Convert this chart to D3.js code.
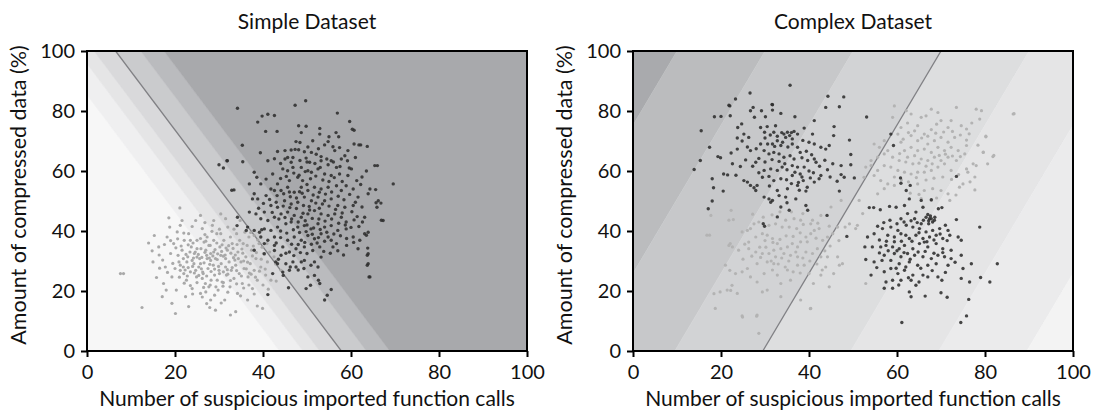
<!DOCTYPE html>
<html>
<head>
<meta charset="utf-8">
<script src="https://cdn.jsdelivr.net/npm/d3@7"></script>
<style>
  body { margin: 0; background: #fff; }
  svg { display: block; font-family: "Lato", "DejaVu Sans", sans-serif; }
</style>
</head>
<body>
<div class="chart"></div>
<script>
// Axis ticks shared by both panels
var tickValues = [0, 20, 40, 60, 80, 100];

// Simple dataset: malicious (dark) and benign (light) points
var simpleMalware = [
  [34.2,80.9],[47.3,81.9],[49.7,83.4],[56.9,79.3],[41.1,78.9],[42.6,78.5],[39.8,78.3],[38.8,76.3],[59.7,76.5],[48.1,75.1],
  [49.8,74.9],[40.6,73.2],[43.2,73.2],[48.7,72.8],[52.9,74.2],[60.7,73.6],[56.6,72.8],[52.9,72.3],[57.2,71.4],[51.3,70.1],
  [55.0,71.4],[54.0,68.7],[35.3,68.6],[48.4,69.5],[60.7,69.0],[62.2,68.7],[63.7,68.2],[43.3,66.5],[45.0,66.8],[46.4,67.0],
  [47.3,67.2],[48.1,67.1],[49.4,66.4],[51.0,66.2],[52.1,65.6],[53.2,64.8],[55.9,68.1],[56.3,66.8],[59.3,66.8],[58.6,65.1],
  [39.4,66.1],[42.6,64.1],[41.1,63.4],[45.6,64.5],[46.4,62.9],[49.8,64.3],[50.6,62.9],[53.2,63.4],[54.8,62.1],[55.5,63.4],
  [56.7,61.2],[57.8,64.0],[59.2,63.4],[59.6,61.0],[65.4,61.8],[66.0,61.8],[31.9,63.4],[35.4,63.1],[31.0,61.0],[38.0,59.6],
  [38.6,57.9],[40.7,57.3],[42.2,59.0],[44.5,60.7],[45.6,60.1],[46.8,61.2],[48.7,61.2],[50.2,60.1],[51.0,59.6],[52.5,60.7],
  [54.0,59.0],[55.5,58.5],[57.4,59.0],[59.3,58.5],[60.1,60.7],[47.9,57.9],[49.0,56.8],[46.0,56.8],[43.3,55.7],[41.8,54.0],
  [39.5,55.7],[36.9,55.7],[33.4,53.7],[38.0,52.4],[37.6,50.7],[38.8,50.7],[40.7,51.8],[42.6,53.5],[44.1,53.5],[45.6,54.6],
  [47.1,52.9],[48.7,54.6],[50.2,53.5],[51.7,54.6],[53.2,54.0],[54.8,54.6],[56.7,55.1],[57.8,53.5],[58.9,55.1],[60.5,54.0],
  [62.2,55.5],[64.3,54.0],[65.6,53.8],[63.9,52.4],[66.2,50.1],[66.8,49.3],[69.6,55.7],[61.6,51.3],[60.5,48.5],[58.6,47.9],
  [57.0,48.5],[55.5,50.7],[54.0,50.1],[52.5,51.3],[51.0,50.1],[49.4,51.3],[47.9,49.6],[46.4,49.0],[44.9,50.1],[43.3,47.9],
  [41.8,48.5],[40.3,46.3],[38.4,45.7],[36.9,46.3],[39.5,44.1],[41.1,43.5],[42.6,44.6],[44.1,45.7],[45.6,46.3],[47.1,45.2],
  [48.7,44.6],[50.2,45.7],[51.7,46.8],[53.2,45.7],[54.8,45.2],[56.3,45.7],[57.8,44.6],[58.9,43.0],[60.7,43.7],[61.8,41.5],
  [63.1,39.1],[63.9,39.6],[65.9,47.9],[67.3,43.5],[63.1,44.6],[34.2,44.6],[34.1,41.8],[36.5,41.3],[38.0,40.2],[39.2,39.6],
  [40.3,40.7],[41.8,40.2],[43.3,41.3],[45.2,42.4],[46.4,43.0],[47.9,41.3],[49.4,41.8],[50.9,40.7],[52.5,42.4],[54.0,41.3],
  [55.5,41.8],[57.0,40.2],[58.9,40.7],[60.5,38.0],[62.0,36.9],[63.9,32.4],[61.6,34.1],[59.0,35.2],[56.7,35.8],[55.5,36.9],
  [55.9,34.7],[54.8,38.0],[53.2,39.1],[51.7,37.4],[50.2,38.5],[48.7,36.9],[47.1,38.0],[45.6,36.9],[44.5,34.7],[42.6,38.0],
  [41.1,36.9],[39.5,38.0],[40.3,32.4],[42.6,33.5],[44.1,31.9],[46.0,33.0],[47.5,34.1],[49.4,34.7],[51.3,33.5],[52.9,34.7],
  [53.2,31.3],[51.7,29.7],[50.9,28.6],[52.5,28.0],[49.4,30.2],[48.7,29.7],[46.8,29.7],[45.2,29.1],[43.3,29.1],[42.2,25.8],
  [44.5,26.3],[46.0,26.9],[47.5,28.0],[50.2,24.7],[51.7,25.2],[52.6,23.6],[50.8,21.9],[52.9,22.5],[55.5,20.5],[54.6,18.6],
  [54.0,17.0],[49.8,20.8],[63.9,29.1],[64.3,24.7],[40.3,35.8],[42.6,35.2],[38.0,33.6],[41.1,18.8],[45.8,21.1],[44.6,25.2],
  [42.9,29.7],[32.9,53.6],[36.2,40.2],[39.7,40.4],[30.0,62.1],[31.8,63.4],[63.5,38.6],[63.8,34.3],[63.7,31.9],[63.7,28.6],
  [64.1,24.7],[65.7,49.4],[66.9,43.6],[60.3,73.9],[61.8,68.7],[48.3,53.1],[50.5,48.2],[46.2,51.4],[52.8,47.6],[49.1,45.9],
  [44.0,57.5],[45.3,58.2],[47.0,59.3],[48.2,58.6],[49.6,59.8],[50.8,57.4],[52.0,58.3],[53.6,57.0],[55.0,56.5],[56.2,57.8],
  [43.2,51.8],[44.7,52.4],[46.0,53.0],[47.6,51.0],[48.9,52.6],[50.0,55.5],[51.4,52.0],[52.8,52.9],[54.2,52.3],[55.6,53.0],
  [57.1,51.6],[58.4,50.4],[59.7,52.2],[61.0,49.6],[62.5,48.0],[60.2,46.4],[58.0,46.0],[56.5,47.2],[55.0,48.3],[53.5,49.0],
  [52.0,49.3],[50.6,47.0],[49.2,48.5],[47.6,47.5],[46.1,47.8],[44.6,48.3],[43.0,49.6],[41.5,50.5],[40.1,49.2],[39.0,47.6],
  [42.1,46.2],[43.6,44.0],[45.0,44.5],[46.5,44.0],[48.0,43.0],[49.6,43.4],[51.2,44.2],[52.7,44.0],[54.1,43.3],[55.6,44.0],
  [57.2,42.6],[58.7,42.0],[60.0,41.2],[61.4,44.8],[62.6,43.0],[50.0,42.0],[51.5,41.0],[53.0,40.5],[54.5,39.6],[56.1,39.0],
  [57.6,38.4],[59.0,37.5],[60.6,36.2],[44.0,40.0],[45.4,39.3],[46.9,40.4],[48.3,39.5],[49.8,39.8],[51.2,38.9],[52.6,37.8],
  [54.0,36.6],[44.0,37.8],[43.0,36.0],[46.5,35.6],[48.0,35.5],[49.5,36.2],[51.0,35.6],[52.3,36.0],[53.8,33.2],[55.3,32.6],
  [57.0,33.4],[58.3,32.0],[47.0,31.8],[48.5,32.8],[50.0,32.5],[45.2,32.6],[43.5,30.6],[46.2,28.0],[48.0,27.0],[49.3,27.5],
  [45.0,64.0],[46.8,64.5],[48.4,63.5],[50.0,63.0],[51.8,62.5],[53.0,61.2],[54.5,64.0],[56.0,63.0],[57.5,61.5],[44.0,62.5],
  [47.5,69.8],[50.2,68.0],[52.6,67.4],[54.8,69.8],[57.4,67.8],[61.0,64.5],[62.5,58.0],[63.5,60.0],[61.3,56.8],[58.0,56.5]
];

var simpleBenign = [
  [8.3,25.8],[7.6,25.8],[12.5,14.5],[14.0,36.0],[15.0,29.7],[15.3,38.5],[16.3,34.7],[17.1,18.1],[17.4,22.5],[17.8,28.0],
  [18.2,38.0],[18.6,44.4],[19.0,32.5],[19.3,24.7],[19.7,35.8],[20.1,12.5],[20.3,20.3],[20.5,39.7],[20.9,29.7],[21.1,47.7],
  [21.2,41.9],[21.2,26.9],[21.6,33.6],[21.9,28.0],[22.1,36.9],[22.4,18.1],[22.6,23.6],[22.9,31.4],[23.1,39.1],[23.5,26.4],
  [23.7,34.7],[23.9,20.8],[24.3,29.1],[24.4,32.5],[24.7,43.5],[24.9,24.7],[25.0,36.9],[25.4,28.0],[25.6,30.8],[25.8,19.2],
  [25.9,34.1],[26.2,40.8],[26.4,25.8],[26.6,29.4],[26.9,22.5],[27.2,31.9],[27.3,38.0],[27.5,27.5],[27.7,35.2],[27.9,14.5],
  [28.1,30.2],[28.2,23.6],[28.5,41.9],[28.7,28.6],[28.8,33.0],[29.0,25.3],[29.2,13.6],[29.5,39.1],[29.6,30.5],[29.8,20.3],
  [30.0,26.9],[30.2,34.7],[30.4,45.7],[30.5,29.1],[30.7,23.0],[31.0,31.6],[31.1,36.9],[31.3,17.0],[31.5,28.0],[31.7,25.3],
  [31.9,33.6],[32.0,41.3],[32.3,29.7],[32.5,21.4],[32.6,12.0],[32.8,26.9],[33.0,35.8],[33.3,31.1],[33.4,24.2],[33.8,28.6],
  [34.0,39.1],[34.2,19.2],[34.3,33.0],[34.6,25.8],[34.8,43.5],[35.0,29.7],[35.3,22.5],[35.5,35.8],[35.7,27.5],[36.1,31.4],
  [36.5,17.0],[36.6,24.7],[36.8,38.0],[37.1,29.1],[37.4,33.6],[37.6,20.8],[38.0,26.9],[38.4,30.8],[38.7,23.6],[39.1,35.8],
  [39.5,28.0],[39.9,14.2],[40.1,32.5],[40.6,25.3],[41.0,29.7],[41.8,23.6],[42.5,31.4],[44.1,26.9],[38.7,15.0],[33.8,13.1],
  [28.1,17.0],[23.1,14.8],[19.3,15.9],[18.8,41.3],[21.6,43.5],[25.8,45.2],[28.8,43.5],[31.5,44.1],[21.9,30.8],[22.7,29.7],
  [21.2,28.6],[23.9,30.2],[25.0,31.3],[25.8,29.1],[27.3,30.8],[28.1,32.5],[29.2,30.8],[30.4,31.9],[31.5,30.8],[24.7,26.9],
  [26.2,24.2],[27.7,21.4],[29.6,23.6],[25.0,34.1],[26.6,36.3],[23.5,36.9],[28.8,36.9],[30.4,39.1],[32.6,38.0],[17.2,30.3],
  [20.0,27.5],[22.3,27.0],[24.0,28.2],[26.0,27.4],[27.9,28.9],[29.9,28.2],[31.9,27.1],[33.6,30.3],[35.4,32.6],[36.9,26.0],
  [24.6,33.0],[26.8,32.9],[29.1,33.8],[32.2,35.1],[34.7,36.9],[37.2,39.5],[22.8,25.0],[20.7,31.9],[30.9,21.6],[27.0,19.7],
  [22.5,32.2],[23.4,33.0],[24.2,31.0],[25.3,32.2],[26.1,31.2],[27.0,33.6],[27.8,31.0],[28.6,31.7],[29.7,32.4],[30.6,33.2],
  [31.4,32.0],[32.7,32.6],[33.7,32.0],[34.4,30.8],[35.6,30.0],[36.5,29.6],[37.6,31.7],[38.5,32.8],[39.6,30.6],[40.5,27.3],
  [21.0,24.6],[22.0,25.8],[23.0,27.8],[24.4,26.0],[25.4,25.2],[26.3,26.3],[27.2,25.0],[28.2,26.5],[29.0,27.3],[30.1,25.8],
  [31.0,26.4],[32.0,25.6],[33.0,27.8],[34.0,26.8],[35.1,25.0],[36.2,27.4],[37.3,25.6],[38.3,24.6],[39.2,26.6],[40.0,22.0],
  [20.2,34.4],[21.4,35.0],[23.0,35.4],[24.1,36.0],[25.8,37.5],[27.0,36.6],[28.0,35.2],[29.5,36.0],[30.7,35.4],[31.6,34.3],
  [33.2,34.2],[34.1,35.5],[35.2,34.0],[36.4,35.2],[37.8,35.0],[38.8,37.0],[39.8,34.6],[26.8,38.8],[28.4,39.9],[30.1,40.6],
  [22.1,22.6],[23.5,21.8],[25.0,22.8],[26.5,21.2],[28.0,22.0],[29.3,21.4],[31.0,22.8],[32.6,23.5],[34.0,22.4],[35.6,21.0],
  [36.8,22.0],[24.0,19.0],[26.2,18.0],[29.0,18.6],[32.0,19.6],[34.9,18.4],[18.3,26.2],[19.5,29.2],[16.4,32.0],[17.6,35.5],
  [19.0,36.8],[20.6,37.4],[22.0,39.3],[23.9,41.5],[26.8,42.8],[33.4,40.6],[35.9,39.6],[38.0,38.5],[40.9,35.8],[41.5,33.0],
  [42.9,29.0],[43.0,23.3],[41.2,20.6],[38.0,19.0],[30.5,16.0],[27.2,15.8],[18.0,20.3],[15.8,24.5],[16.5,27.6],[14.8,33.4]
];

// Complex dataset: two malicious clusters (dark), two benign clusters (light)
var complexMalware = [
  [15.5,73.4],[17.4,67.9],[15.3,63.5],[13.9,60.5],[18.5,78.1],[20.0,78.2],[22.0,81.7],[22.1,78.4],[18.0,57.4],[18.3,54.4],
  [20.5,53.3],[18.0,50.0],[17.1,47.4],[19.3,64.8],[19.9,64.4],[21.5,58.7],[20.6,59.0],[22.3,66.0],[23.7,67.3],[23.8,74.5],
  [24.7,75.7],[23.7,71.0],[25.2,72.3],[26.3,71.2],[26.7,66.8],[25.6,63.7],[24.4,61.5],[27.9,62.9],[26.7,80.1],[27.3,81.2],
  [29.2,80.1],[27.6,77.9],[30.1,78.1],[31.7,82.1],[31.7,80.3],[33.6,79.2],[36.8,78.1],[41.2,76.8],[43.8,81.2],[46.9,81.4],
  [29.0,74.5],[30.5,74.8],[32.4,75.1],[29.9,72.9],[32.0,72.9],[34.3,72.3],[35.1,72.9],[36.6,73.2],[38.9,74.3],[40.8,72.3],
  [34.7,71.2],[36.2,70.7],[37.4,72.3],[32.8,70.1],[31.7,69.0],[33.6,68.5],[36.2,69.0],[37.4,67.9],[29.0,69.0],[29.8,66.8],
  [30.9,65.7],[32.0,66.2],[33.2,65.7],[34.3,64.6],[35.7,65.1],[36.6,64.0],[38.0,66.2],[40.0,69.6],[41.2,69.0],[42.7,67.9],
  [43.8,67.3],[44.6,68.5],[45.7,74.8],[45.6,71.8],[49.2,70.3],[49.5,65.5],[49.5,62.1],[47.3,61.8],[47.3,58.8],[48.0,57.9],
  [50.3,57.7],[45.4,62.4],[44.2,60.4],[42.7,58.5],[41.2,64.0],[41.6,62.9],[39.7,63.5],[38.9,61.3],[37.4,61.3],[36.2,61.8],
  [34.5,62.4],[33.9,61.3],[32.8,60.2],[31.3,60.7],[29.8,60.2],[29.4,57.9],[30.9,58.2],[32.0,56.8],[33.6,57.4],[34.9,57.1],
  [36.2,58.5],[38.0,59.0],[38.7,56.8],[40.3,57.7],[41.2,56.3],[42.3,57.4],[39.6,54.6],[39.3,53.3],[37.4,55.2],[35.1,54.1],
  [32.8,53.5],[28.2,55.2],[27.5,54.4],[26.7,55.2],[26.0,56.3],[25.2,56.8],[27.9,53.5],[29.8,51.3],[30.9,50.7],[31.3,49.6],
  [31.7,50.2],[33.6,48.0],[34.7,51.3],[37.0,50.7],[39.3,48.5],[39.7,46.9],[35.5,46.9],[32.8,44.7],[29.6,42.4],[29.9,41.6],
  [46.9,53.3],[44.1,45.2],[48.6,38.2],[26.6,86.0],[35.7,88.6],[44.3,84.9],[47.9,84.7],[23.3,84.0],[21.8,81.9],[31.6,82.2],
  [30.0,71.0],[31.2,72.0],[32.8,71.6],[33.8,72.8],[35.6,71.8],[36.0,72.8],[30.6,69.0],[32.2,68.2],[34.0,69.6],[35.2,68.0],
  [38.6,70.2],[39.4,66.6],[40.6,65.4],[38.4,64.4],[33.2,63.2],[31.6,63.8],[30.0,63.0],[28.6,64.2],[27.2,61.6],[28.6,59.4],
  [35.0,60.4],[36.8,59.6],[38.4,58.0],[40.0,60.0],[42.4,61.6],[43.6,63.6],[44.8,58.0],[46.4,56.6],[37.6,56.2],[36.0,55.8],
  [24.8,70.0],[26.0,68.0],[28.0,67.4],[22.6,62.4],[23.4,58.6],[31.0,55.0],[33.2,51.8],[35.0,49.4],[37.8,53.6],[41.0,59.4],
  [53.1,78.0],[58.6,72.3],[59.2,68.5],[73.5,58.2],[60.8,57.7],[60.9,55.9],[62.1,53.5],[63.0,55.2],[53.7,47.8],[54.7,47.8],
  [56.2,47.1],[58.3,48.2],[59.8,47.9],[61.7,48.5],[62.8,50.7],[65.5,50.2],[67.8,50.4],[65.9,47.9],[69.4,47.4],[70.2,47.8],
  [62.4,45.8],[64.3,46.3],[60.9,44.1],[64.0,44.1],[67.8,44.1],[68.5,43.6],[67.2,42.4],[65.5,42.4],[73.5,43.8],[78.8,41.3],
  [56.7,40.8],[58.6,41.3],[60.2,40.2],[62.1,41.9],[63.6,41.3],[65.1,40.8],[66.6,39.7],[68.1,40.2],[69.7,40.8],[71.0,41.9],
  [71.6,40.2],[53.3,38.0],[54.8,39.1],[57.9,38.6],[59.4,38.0],[60.9,39.1],[62.8,37.5],[64.3,38.6],[65.9,37.5],[67.4,38.0],
  [68.9,38.6],[70.4,37.5],[72.0,38.6],[73.9,38.0],[74.6,36.9],[52.7,34.7],[54.4,34.7],[56.3,34.7],[57.5,35.2],[59.0,34.7],
  [60.5,34.1],[61.7,35.2],[63.6,34.1],[65.1,35.8],[67.0,34.7],[68.9,35.8],[70.4,34.1],[72.3,33.6],[56.0,32.7],[57.1,31.9],
  [59.4,32.5],[60.9,31.4],[62.4,32.5],[64.0,31.9],[65.9,31.4],[67.8,30.8],[69.3,31.9],[70.8,31.4],[72.3,30.8],[74.6,31.9],
  [52.9,30.5],[54.8,29.7],[58.6,30.2],[60.5,29.1],[62.8,29.7],[64.7,28.6],[67.0,28.6],[68.9,29.1],[71.6,28.6],[75.0,27.5],
  [76.9,29.1],[82.8,29.1],[57.1,26.4],[58.6,27.5],[60.2,25.8],[61.7,26.9],[63.6,25.3],[65.9,25.3],[67.0,24.7],[69.3,24.7],
  [70.2,23.6],[74.6,24.2],[76.5,23.0],[79.0,24.5],[81.1,23.0],[54.1,25.3],[57.5,23.0],[59.0,23.6],[60.9,23.6],[63.2,23.6],
  [57.1,20.9],[59.0,20.9],[64.3,21.9],[62.8,19.7],[63.2,18.1],[66.4,18.3],[70.0,19.4],[71.4,17.9],[76.3,17.2],[75.8,11.7],
  [74.5,9.5],[61.1,9.5],[67.4,44.1],[68.1,43.0],[67.0,45.5],[66.2,36.3],[61.0,36.6],[64.8,33.0],
  [66.6,44.6],[67.6,45.0],[68.6,44.6],[67.2,43.4],[66.0,43.6],[64.6,42.8],[63.2,43.4],[61.6,43.0],[60.0,42.4],[58.4,43.6],
  [57.0,42.8],[55.6,41.6],[56.0,37.0],[57.6,36.6],[59.4,36.4],[62.0,38.6],[63.4,36.6],[65.0,39.4],[66.8,36.4],[68.4,37.0],
  [69.8,39.0],[71.4,36.8],[70.4,32.8],[68.4,32.6],[66.4,33.2],[63.0,30.6],[61.6,32.8],[60.0,33.4],[58.0,33.4],[56.6,30.2],
  [55.4,27.8],[59.8,27.6],[62.0,28.0],[65.4,27.6],[68.0,26.8],[71.0,26.2],[73.2,29.6],[62.6,24.4],[60.4,22.0],[65.0,23.0]
];

var complexBenign = [
  [22.3,46.9],[22.8,43.8],[21.8,43.6],[17.7,45.2],[17.4,38.6],[21.8,35.2],[22.1,35.8],[21.0,28.6],[22.0,26.9],[23.3,25.8],
  [24.8,26.4],[26.0,27.5],[22.5,21.9],[21.4,20.3],[23.7,19.2],[18.7,14.2],[24.8,11.7],[28.2,12.0],[28.6,5.9],[26.0,40.2],
  [26.7,40.8],[27.5,42.4],[28.6,43.0],[24.8,39.7],[26.3,36.3],[27.9,38.0],[29.4,39.1],[30.5,38.6],[31.7,37.5],[32.8,35.8],
  [33.6,34.1],[35.1,34.7],[36.2,35.8],[37.4,34.7],[38.1,36.4],[39.3,38.0],[40.4,39.1],[41.2,40.2],[42.3,40.8],[40.4,42.4],
  [38.7,42.2],[37.2,40.8],[35.5,41.3],[33.9,41.3],[32.4,42.4],[30.9,41.9],[26.3,34.1],[27.9,33.0],[29.4,32.5],[30.9,32.5],
  [32.4,31.4],[34.3,32.5],[35.8,31.9],[37.4,31.4],[39.3,33.0],[40.8,32.5],[41.9,34.1],[43.1,36.9],[44.2,38.0],[45.4,39.1],
  [46.5,41.3],[48.2,41.3],[49.2,42.4],[42.7,31.4],[44.2,31.4],[46.5,31.4],[46.9,28.6],[47.6,29.1],[43.8,28.0],[42.7,25.3],
  [41.0,22.5],[44.6,21.4],[40.4,14.2],[38.1,17.0],[33.6,18.1],[30.5,20.3],[28.2,23.0],[26.7,24.7],[29.8,25.8],[31.7,27.0],
  [32.8,25.3],[35.1,27.0],[37.4,28.6],[38.9,28.6],[40.0,25.8],[35.8,23.6],[33.6,22.5],[32.0,29.1],[30.5,29.7],[28.2,29.1],
  [29.4,19.7],[34.7,43.6],[36.6,44.1],[38.1,43.6],[40.8,43.6],[42.7,45.2],[45.0,48.0],[47.3,50.2],[16.8,38.6],[18.4,19.1],
  [19.8,19.7],[22.2,20.2],[24.9,11.3],[28.1,11.6],[40.3,14.1],[22.6,34.7],
  [30.0,36.8],[31.8,36.2],[33.4,37.2],[34.8,38.4],[36.4,38.2],[38.0,39.4],[39.6,36.4],[41.6,37.6],[43.6,33.4],[44.8,35.0],
  [28.8,34.6],[30.2,34.6],[32.0,33.6],[33.8,31.0],[35.4,30.0],[37.0,33.0],[38.6,31.0],[40.2,30.0],[41.8,29.0],[43.0,27.0],
  [27.0,31.6],[29.0,31.2],[31.4,30.0],[33.0,29.0],[34.6,28.0],[36.4,26.4],[38.0,26.0],[25.0,30.6],[24.0,33.6],[25.4,35.6],
  [27.2,45.6],[29.6,44.6],[31.6,45.4],[33.4,46.4],[36.0,46.4],[38.6,45.8],[42.0,42.6],[44.6,41.6],[46.8,36.8],[45.6,25.8],
  [59.4,81.7],[59.0,77.9],[62.1,80.1],[63.2,79.0],[65.5,77.9],[66.6,78.4],[67.8,80.6],[69.3,79.5],[70.0,76.8],[72.3,76.8],
  [73.5,81.2],[74.6,75.1],[78.0,80.6],[79.2,80.1],[78.8,77.3],[86.4,79.0],[80.2,71.4],[81.8,64.8],[79.6,66.2],[75.8,70.3],
  [75.8,68.5],[75.4,65.7],[77.3,62.4],[78.0,61.8],[75.8,60.7],[76.1,59.6],[77.7,58.0],[77.7,53.7],[75.0,55.7],[72.0,50.2],
  [72.3,60.2],[70.8,62.4],[69.3,61.3],[67.8,60.2],[66.2,59.6],[64.7,59.6],[63.2,59.0],[61.7,59.6],[60.2,60.2],[58.6,61.3],
  [57.1,61.8],[55.6,60.2],[54.8,58.5],[56.3,56.8],[57.9,55.7],[59.4,55.2],[64.7,55.7],[66.2,53.5],[68.1,54.1],[70.0,53.5],
  [71.6,52.4],[67.8,50.2],[65.5,50.8],[63.2,71.8],[64.7,70.1],[66.2,72.3],[67.0,69.0],[68.5,70.1],[70.0,71.2],[71.6,69.6],
  [73.1,71.2],[72.3,67.9],[70.8,66.8],[69.3,67.9],[67.8,66.2],[66.2,67.3],[64.7,66.8],[63.2,67.9],[61.7,66.8],[60.9,69.6],
  [60.2,72.3],[62.4,64.6],[64.0,65.1],[65.5,64.0],[67.0,63.5],[68.5,64.6],[70.0,63.5],[71.6,64.6],[73.5,63.5],[73.9,66.8],
  [57.1,65.7],[55.6,64.6],[54.1,63.5],[52.9,61.3],[52.5,57.9],[51.4,50.2],[52.2,45.8],[51.0,41.9],[50.6,40.8],[52.9,22.5],
  [57.9,66.8],[59.0,64.6],[60.5,63.5],[57.1,70.1],[56.0,67.9],[54.8,69.0],[60.9,74.5],[64.7,75.1],[67.8,73.8],[71.6,74.5],
  [75.8,74.0],[54.1,61.8],[57.1,54.1],[55.6,52.4],[86.6,79.1],[82.0,65.2],[80.2,71.6],[79.6,66.3],
  [60.6,65.8],[62.0,63.0],[63.6,62.4],[65.0,62.6],[66.6,61.6],[68.0,62.4],[69.6,65.2],[71.0,65.6],[72.6,65.0],[74.4,64.8],
  [61.4,70.6],[62.6,72.8],[64.0,73.4],[65.6,71.0],[67.0,71.6],[68.8,72.6],[70.6,73.0],[72.6,73.2],[74.4,72.0],[76.4,72.4],
  [59.4,58.0],[61.0,57.0],[62.6,56.4],[64.4,57.8],[66.6,57.0],[68.4,57.6],[70.4,58.0],[72.4,57.2],[74.0,58.8],[76.6,56.4],
  [63.0,52.6],[65.0,52.2],[69.0,51.0],[73.4,52.0],[74.2,54.6],[78.4,68.6],[80.6,62.4],[77.0,76.0],[69.0,75.6],[62.4,76.0]
];

// Decision regions: x-intercepts (at y = 0) of the contour edges and their shift at y = 100
var simpleEdges = [43.8, 49.1, 52.9, 57.8, 63.5, 68.8];
var simpleShift = -51.3;
var simpleBandColors = ["#f7f7f7", "#efeff0", "#e5e5e6", "#d9d9db", "#cacbcd", "#babbbe", "#a8a9ac"];
var simpleBoundary = [[57.8, 0], [6.5, 100]];

var complexEdges = [-30.5, -10.5, 9.5, 29.5, 49.5, 69.5, 89.5];
var complexShift = 40.5;
var complexBandColors = ["#a9aaad", "#bbbcbe", "#c7c8ca", "#d2d3d5", "#dddedf", "#e5e5e6", "#ebebec", "#f3f3f3"];
var complexBoundary = [[29.5, 0], [70, 100]];

var width = 1093, height = 411;

var svg = d3.select(".chart").append("svg")
  .attr("width", width)
  .attr("height", height);

function drawPanel(opts) {
  var x = d3.scaleLinear().domain([0, 100]).range([opts.left, opts.left + 440]);
  var y = d3.scaleLinear().domain([0, 100]).range([351, 51]);

  var g = svg.append("g");

  g.append("clipPath")
    .attr("id", opts.id)
    .append("rect")
    .attr("x", x(0)).attr("y", y(100))
    .attr("width", x(100) - x(0)).attr("height", y(0) - y(100));

  var area = g.append("g").attr("clip-path", "url(#" + opts.id + ")");

  // Background bands of the classifier
  var edges = [-400].concat(opts.edges, [500]);
  var bands = d3.range(edges.length - 1).map(function(i) {
    return { a: edges[i], b: edges[i + 1], color: opts.colors[i] };
  });

  area.selectAll("polygon.band")
    .data(bands)
    .enter().append("polygon")
    .attr("class", "band")
    .attr("points", function(d) {
      return [[d.a, 0], [d.b, 0], [d.b + opts.shift, 100], [d.a + opts.shift, 100]]
        .map(function(p) { return x(p[0]) + "," + y(p[1]); }).join(" ");
    })
    .attr("fill", function(d) { return d.color; })
    .attr("stroke", function(d) { return d.color; })
    .attr("stroke-width", 0.5);

  // Decision boundary
  area.append("line")
    .attr("x1", x(opts.boundary[0][0])).attr("y1", y(opts.boundary[0][1]))
    .attr("x2", x(opts.boundary[1][0])).attr("y2", y(opts.boundary[1][1]))
    .attr("stroke", "#808084")
    .attr("stroke-width", 1.3);

  // Benign points
  area.selectAll("circle.benign")
    .data(opts.benign)
    .enter().append("circle")
    .attr("class", "benign")
    .attr("cx", function(d) { return x(d[0]); })
    .attr("cy", function(d) { return y(d[1]); })
    .attr("r", 1.6)
    .attr("fill", opts.benignColor);

  // Malicious points
  area.selectAll("circle.malware")
    .data(opts.malware)
    .enter().append("circle")
    .attr("class", "malware")
    .attr("cx", function(d) { return x(d[0]); })
    .attr("cy", function(d) { return y(d[1]); })
    .attr("r", 1.7)
    .attr("fill", "#2e2e2e")
    .attr("fill-opacity", 0.88);

  // Frame
  g.append("rect")
    .attr("x", x(0)).attr("y", y(100))
    .attr("width", x(100) - x(0)).attr("height", y(0) - y(100))
    .attr("fill", "none")
    .attr("stroke", "#000")
    .attr("stroke-width", 2);

  // Axes
  var xAxis = g.append("g")
    .attr("transform", "translate(0," + y(0) + ")")
    .call(d3.axisBottom(x).tickValues(tickValues).tickSize(6).tickSizeOuter(0).tickPadding(8));
  var yAxis = g.append("g")
    .attr("transform", "translate(" + x(0) + ",0)")
    .call(d3.axisLeft(y).tickValues(tickValues).tickSize(6).tickSizeOuter(0).tickPadding(6));

  [xAxis, yAxis].forEach(function(ax) {
    ax.select(".domain").remove();
    ax.selectAll("line").attr("stroke", "#000").attr("stroke-width", 2);
    ax.selectAll("text")
      .attr("fill", "#111")
      .style("font-size", "20px")
      .style("font-family", "Lato, sans-serif");
  });

  // Title
  g.append("text")
    .attr("x", (x(0) + x(100)) / 2)
    .attr("y", 29)
    .attr("text-anchor", "middle")
    .attr("fill", "#111")
    .style("font-size", "21px")
    .text(opts.title);

  // X-axis label
  g.append("text")
    .attr("x", (x(0) + x(100)) / 2)
    .attr("y", 406)
    .attr("text-anchor", "middle")
    .attr("fill", "#111")
    .style("font-size", "21px")
    .text("Number of suspicious imported function calls");

  // Y-axis label
  g.append("text")
    .attr("transform", "rotate(-90)")
    .attr("x", -195)
    .attr("y", x(0) - 61)
    .attr("text-anchor", "middle")
    .attr("fill", "#111")
    .style("font-size", "21.5px")
    .text("Amount of compressed data (%)");
}

drawPanel({
  id: "clip-simple", left: 87, title: "Simple Dataset",
  edges: simpleEdges, shift: simpleShift, colors: simpleBandColors, boundary: simpleBoundary,
  malware: simpleMalware, benign: simpleBenign, benignColor: "#a9a9a9"
});

drawPanel({
  id: "clip-complex", left: 633, title: "Complex Dataset",
  edges: complexEdges, shift: complexShift, colors: complexBandColors, boundary: complexBoundary,
  malware: complexMalware, benign: complexBenign, benignColor: "#b3b3b3"
});
</script>
</body>
</html>
